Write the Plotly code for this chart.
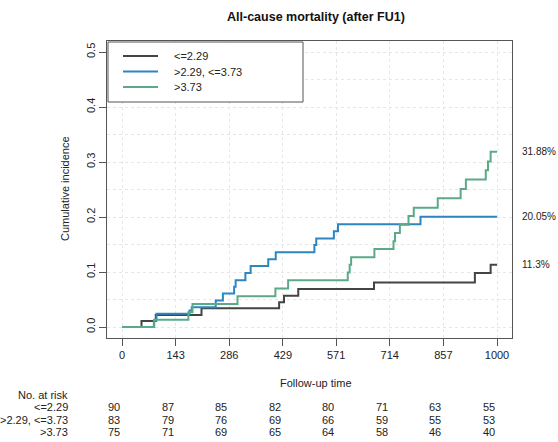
import plotly.graph_objects as go

# ---- data ----
groups = ["<=2.29", ">2.29, <=3.73", ">3.73"]
colors = ["#444444", "#2b86c2", "#5aaa88"]

t_low = [0, 52, 90, 212, 419, 432, 470, 672, 941, 983, 1000]
ci_low = [0, 0.011, 0.022, 0.034, 0.045, 0.057, 0.069, 0.081, 0.098, 0.113, 0.113]

t_mid = [0, 85, 92, 180, 186, 250, 269, 299, 303, 329, 343, 390, 410, 513, 518, 565, 576, 796, 1000]
ci_mid = [0, 0.012, 0.024, 0.030, 0.036, 0.048, 0.061, 0.073, 0.085, 0.098, 0.111, 0.123,
          0.136, 0.149, 0.161, 0.174, 0.187, 0.2005, 0.2005]

t_high = [0, 86, 177, 188, 308, 409, 443, 602, 607, 611, 673, 724, 728, 741, 764, 778,
          842, 903, 917, 970, 976, 983, 1000]
ci_high = [0, 0.013, 0.027, 0.042, 0.056, 0.070, 0.085, 0.099, 0.113, 0.127, 0.142, 0.156,
           0.171, 0.186, 0.202, 0.217, 0.234, 0.251, 0.268, 0.285, 0.301, 0.3188, 0.3188]

end_labels = ["11.3%", "20.05%", "31.88%"]

x_ticks = [0, 143, 286, 429, 571, 714, 857, 1000]
y_ticks = [0.0, 0.1, 0.2, 0.3, 0.4, 0.5]
y_ticktext = ["0.0", "0.1", "0.2", "0.3", "0.4", "0.5"]

risk_low = [90, 87, 85, 82, 80, 71, 63, 55]
risk_mid = [83, 79, 76, 69, 66, 59, 55, 53]
risk_high = [75, 71, 69, 65, 64, 58, 46, 40]

title = "All-cause mortality (after FU1)"
xlabel = "Follow-up time"
ylabel = "Cumulative incidence"

# ---- layout geometry (pixels) ----
W, H = 558, 442
L, R, T, B = 107, 512, 41, 338
PW, PH = R - L, B - T
FONT = "Liberation Sans, Arial, sans-serif"


def px(xpix):
    return (xpix - L) / PW


def py(ypix):
    return (B - ypix) / PH


fig = go.Figure()
series = [(t_low, ci_low), (t_mid, ci_mid), (t_high, ci_high)]
for (t, c), name, col in zip(series, groups, colors):
    fig.add_trace(go.Scatter(x=t, y=c, mode="lines", line=dict(shape="hv", color=col, width=2),
                             name=name, showlegend=False, hoverinfo="skip"))

ann = []
# end labels
for (t, c), lab in zip(series, end_labels):
    ann.append(dict(x=px(521), xref="paper", y=c[-1], yref="y", text=lab, showarrow=False,
                    xanchor="left", yanchor="middle", borderpad=0,
                    font=dict(size=10, color="#222")))

# title & axis titles
ann.append(dict(x=px(316), y=py(17), xref="paper", yref="paper", text="<b>%s</b>" % title,
                showarrow=False, xanchor="center", yanchor="middle", font=dict(size=12.5, color="#111")))
ann.append(dict(x=px(316), y=py(383), xref="paper", yref="paper", text=xlabel,
                showarrow=False, xanchor="center", yanchor="middle", font=dict(size=11, color="#222")))
ann.append(dict(x=px(65), y=py(189), xref="paper", yref="paper", text=ylabel, textangle=-90,
                showarrow=False, xanchor="center", yanchor="middle", font=dict(size=11, color="#222")))

# risk table
ann.append(dict(x=px(70), y=py(395), xref="paper", yref="paper", text="No. at risk",
                showarrow=False, xanchor="right", yanchor="middle", font=dict(size=11, color="#222")))
row_y = [407, 419.5, 432]
for rows, name, yy in zip([risk_low, risk_mid, risk_high], groups, row_y):
    ann.append(dict(x=px(70), y=py(yy), xref="paper", yref="paper", text=name,
                    showarrow=False, xanchor="right", yanchor="middle", font=dict(size=11, color="#222")))
    for xv, n in zip(x_ticks, rows):
        ann.append(dict(x=xv, xref="x", y=py(yy), yref="paper", text=str(n), showarrow=False,
                        xanchor="right", yanchor="middle", font=dict(size=11, color="#222")))

# legend (manual box)
shapes = [dict(type="rect", xref="paper", yref="paper", x0=px(108), x1=px(303), y0=py(102), y1=py(42),
               line=dict(color="#555", width=1), fillcolor="white", layer="above")]
leg_y = [56, 71.5, 87]
for name, col, yy in zip(groups, colors, leg_y):
    shapes.append(dict(type="line", xref="paper", yref="paper", x0=px(123), x1=px(158),
                       y0=py(yy), y1=py(yy), line=dict(color=col, width=2), layer="above"))
    ann.append(dict(x=px(172), y=py(yy), xref="paper", yref="paper", text=name, showarrow=False,
                    xanchor="left", yanchor="middle", font=dict(size=11, color="#222")))

fig.update_layout(
    width=W, height=H,
    margin=dict(l=L, r=W - R, t=T, b=H - B, pad=0),
    paper_bgcolor="white", plot_bgcolor="white",
    font=dict(family=FONT, size=11, color="#222"),
    annotations=ann, shapes=shapes, showlegend=False,
    xaxis=dict(range=[-40, 1040], tickvals=x_ticks, ticks="outside", ticklen=7, tickcolor="#555",
               showline=True, linecolor="#555", mirror=True, linewidth=1,
               showgrid=True, gridcolor="#e6e6e6", griddash="dot", gridwidth=1, zeroline=False,
               tickfont=dict(size=11, color="#222")),
    yaxis=dict(range=[-0.02, 0.52], tickvals=y_ticks, ticktext=y_ticktext, ticks="outside", ticklen=7,
               tickcolor="#555", tickangle=-90,
               showline=True, linecolor="#555", mirror=True, linewidth=1,
               showgrid=True, gridcolor="#e6e6e6", griddash="dot", gridwidth=1, zeroline=False,
               minor=dict(dtick=0.05, tick0=0, showgrid=True, gridcolor="#e6e6e6", griddash="dot"),
               tickfont=dict(size=11, color="#222")),
)

fig.write_html("out.html", config={"displayModeBar": False},
               post_script="document.body.style.margin='0';document.body.style.padding='0';")
